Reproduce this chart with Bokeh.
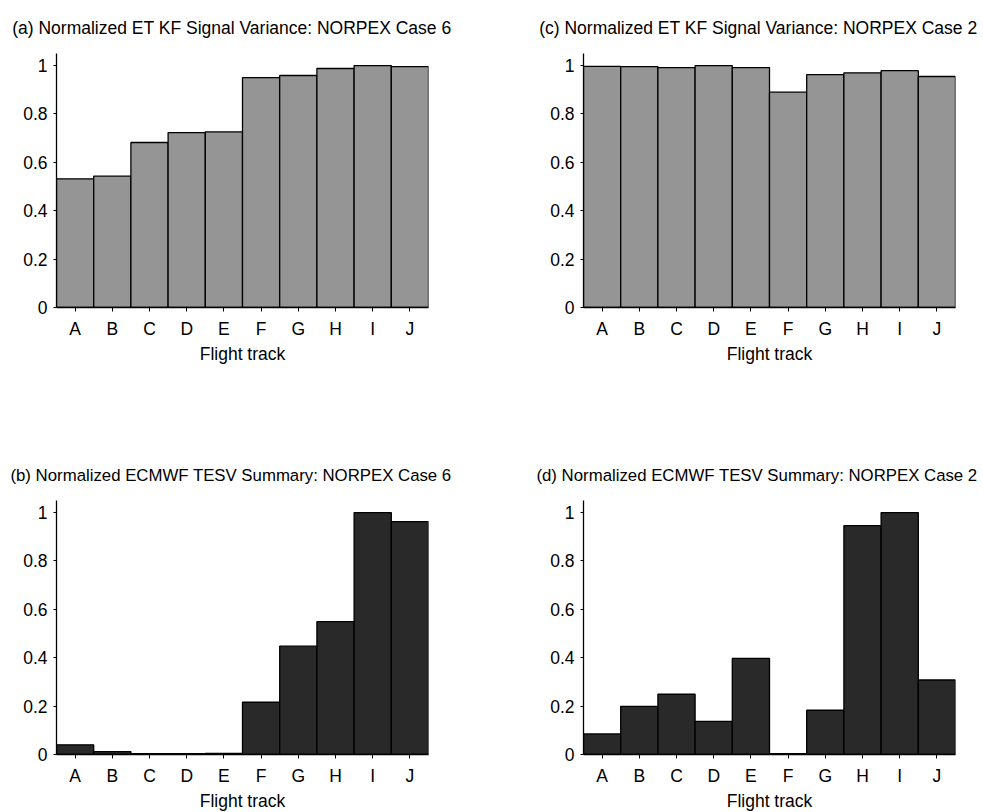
from bokeh.plotting import figure
from bokeh.models import FactorRange, Range1d, FixedTicker, NumeralTickFormatter
from bokeh.layouts import column, row
from bokeh.embed import file_html
from bokeh.resources import INLINE

tracks = ["A", "B", "C", "D", "E", "F", "G", "H", "I", "J"]
kf_case6 = [0.532, 0.543, 0.682, 0.723, 0.726, 0.950, 0.959, 0.988, 1.0, 0.996]
kf_case2 = [0.997, 0.996, 0.992, 1.0, 0.992, 0.890, 0.963, 0.970, 0.979, 0.955]
tesv_case6 = [0.040, 0.012, 0.003, 0.003, 0.005, 0.216, 0.448, 0.549, 1.0, 0.963]
tesv_case2 = [0.085, 0.199, 0.249, 0.137, 0.397, 0.004, 0.183, 0.946, 1.0, 0.308]
y_ticks = [0, 0.2, 0.4, 0.6, 0.8, 1.0]

titles = {
    "a": "(a) Normalized ET KF Signal Variance: NORPEX Case 6",
    "b": "(b) Normalized ECMWF TESV Summary: NORPEX Case 6",
    "c": "(c) Normalized ET KF Signal Variance: NORPEX Case 2",
    "d": "(d) Normalized ECMWF TESV Summary: NORPEX Case 2",
}

FONT = "Liberation Sans"
GRAY = "#959595"
DARK = "#292929"


def panel(title, values, color, bl, br, bt, bb, off, tsize):
    p = figure(
        x_range=FactorRange(*tracks, range_padding=0),
        y_range=Range1d(0, 1.05),
        frame_width=372, frame_height=254,
        min_border_left=bl, min_border_right=br,
        min_border_top=bt, min_border_bottom=bb,
        output_backend="svg", toolbar_location=None,
        title=title,
    )
    p.vbar(x=tracks, top=values, width=1.0, bottom=0,
           fill_color=color, line_color="black", line_width=1.3)
    p.title.text_font = FONT
    p.title.text_font_size = tsize
    p.title.text_font_style = "normal"
    p.title.text_color = "black"
    p.title.align = "right"
    p.title.offset = off
    p.title.standoff = 31
    p.outline_line_color = None
    p.xgrid.visible = False
    p.ygrid.visible = False
    p.background_fill_color = "white"
    p.border_fill_color = "white"

    for ax in (p.xaxis[0], p.yaxis[0]):
        ax.axis_line_color = "black"
        ax.axis_line_width = 1.3
        ax.major_tick_line_color = "black"
        ax.major_tick_line_width = 1.0
        ax.major_tick_in = 0
        ax.minor_tick_line_color = None
        ax.major_label_text_font = FONT
        ax.major_label_text_font_size = "17.5px"
        ax.major_label_text_color = "black"
    p.xaxis[0].major_tick_out = 4
    p.xaxis[0].major_label_standoff = 7
    p.xaxis[0].axis_label = "Flight track"
    p.xaxis[0].axis_label_text_font = FONT
    p.xaxis[0].axis_label_text_font_size = "17.5px"
    p.xaxis[0].axis_label_text_font_style = "normal"
    p.xaxis[0].axis_label_text_color = "black"
    p.xaxis[0].axis_label_standoff = 2

    p.yaxis[0].ticker = FixedTicker(ticks=y_ticks)
    p.yaxis[0].formatter = NumeralTickFormatter(format="0.[0]")
    p.yaxis[0].major_tick_out = 3
    p.yaxis[0].major_label_standoff = 6
    return p


pa = panel(titles["a"], kf_case6, GRAY, 56, 100, 53, 93, -23, "17.5px")
pc = panel(titles["c"], kf_case2, GRAY, 55, 26, 53, 93, -22, "17.5px")
pb = panel(titles["b"], tesv_case6, DARK, 56, 100, 100, 54, -23, "16.8px")
pd = panel(titles["d"], tesv_case2, DARK, 55, 26, 100, 54, -22, "16.8px")

layout = column(row(pa, pc), row(pb, pd))

with open("out.html", "w") as f:
    f.write(file_html(layout, INLINE))
